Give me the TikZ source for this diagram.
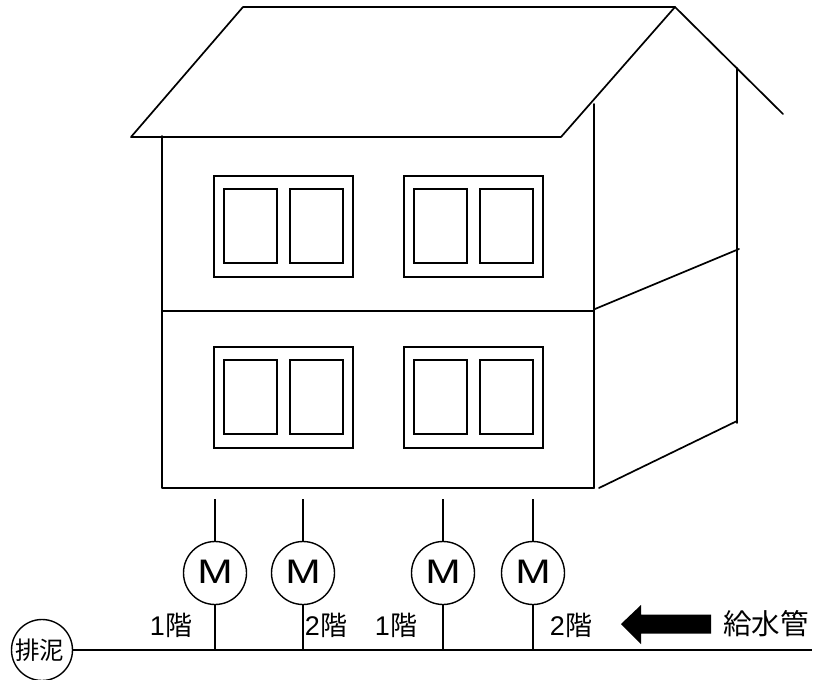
\documentclass[tikz,border=0pt]{standalone}
\usepackage{fontspec}
\setmainfont{Liberation Sans}
\newfontfamily\cjk{Noto Sans CJK JP}
\begin{document}
\begin{tikzpicture}[x=1pt,y=-1pt,
  wall/.style={line width=1.7pt,line cap=round,line join=round},
  pane/.style={line width=1.8pt},
  meter/.style={circle,draw,line width=1.4pt,minimum size=63pt,inner sep=0pt,
    font=\fontsize{34}{34}\selectfont},
  tap/.style={line width=1.4pt},
  pipe/.style={line width=2.4pt},
  floorlabel/.style={inner sep=0pt,font=\fontsize{27}{27}\selectfont},
  drainbox/.style={circle,draw,line width=1.4pt,minimum size=61pt,inner sep=0pt,
    font=\cjk\fontsize{24.5}{24.5}\selectfont}]
\useasboundingbox (0,0) rectangle (815,680);

% roof
\draw[wall] (131,137) -- (243,7) -- (675,7) -- (561,137) -- cycle;
\draw[wall] (675,7) -- (783,114);

% front wall and floor line
\draw[wall] (162,136) -- (162,488) -- (594,488);
\draw[wall] (594,104) -- (594,488);
\draw[wall] (162,311) -- (594,311);

% side wall
\draw[wall] (737,68) -- (737,423);
\draw[wall] (595,309) -- (739,249);
\draw[wall] (599,488) -- (737,421);

% windows: outer frame with two panes
\foreach \wx/\wy in {214/176, 404/176, 214/347, 404/347}{
  \draw[pane] (\wx,\wy) rectangle ++(139,101);
  \draw[pane] (\wx+10,\wy+13) rectangle ++(53,74);
  \draw[pane] (\wx+76,\wy+13) rectangle ++(53,74);
}

% water meters
\node[meter] (m1) at (215,573) {\raisebox{1.5pt}{\scalebox{1.25}[1]{M}}};
\node[meter] (m2) at (303,573) {\raisebox{1.5pt}{\scalebox{1.25}[1]{M}}};
\node[meter] (m3) at (443,573) {\raisebox{1.5pt}{\scalebox{1.25}[1]{M}}};
\node[meter] (m4) at (533,573) {\raisebox{1.5pt}{\scalebox{1.25}[1]{M}}};

% drain and main supply pipe
\node[drainbox] (drain) at (42,650) {\hspace*{-4pt}\raisebox{2pt}{排泥}};
\coordinate (pipeend) at (812,650);
\draw[pipe] (drain.east) -- (pipeend);

% risers from the building to the meters and down to the pipe
\foreach \m in {m1,m2,m3,m4}{
  \coordinate (\m top) at ([yshift=41.5pt]\m.north);
  \draw[tap] (\m top) -- (\m.north);
  \draw[tap] (\m.south) -- (\m.south |- pipeend);
}

% floor labels
\node[floorlabel] (l1) at (171,625) {1{\cjk 階}};
\node[floorlabel] (l2) at (326,625) {2{\cjk 階}};
\node[floorlabel] (l3) at (396,625) {1{\cjk 階}};
\node[floorlabel] (l4) at (571,625) {2{\cjk 階}};

% flow direction arrow and supply label
\fill (621,624) -- (641,605) -- (641,614.5) -- (711,614.5) -- (711,633.5)
  -- (641,633.5) -- (641,644) -- cycle;
\node[inner sep=0pt,font=\cjk\fontsize{28.5}{28.5}\selectfont] (supply) at (766,624) {給水管};
\end{tikzpicture}
\end{document}
